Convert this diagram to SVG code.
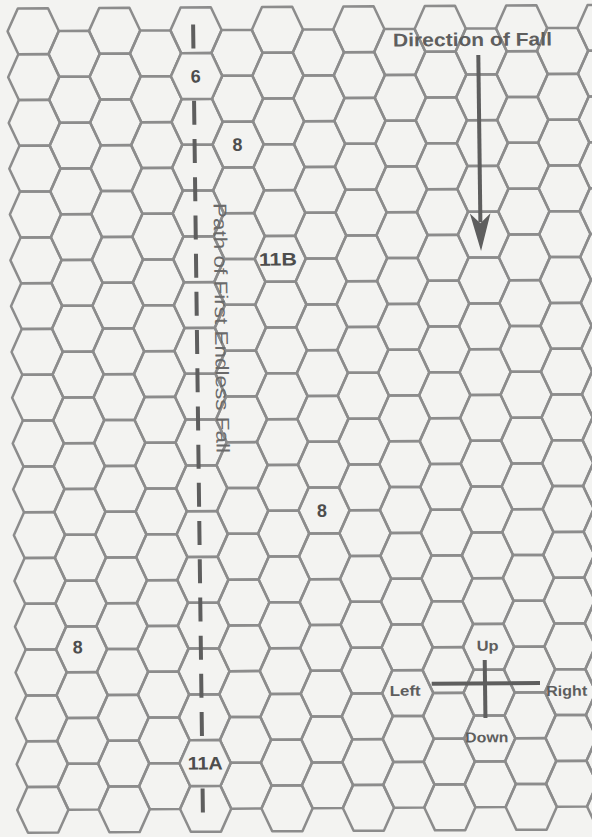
<svg xmlns="http://www.w3.org/2000/svg" width="592" height="837" viewBox="0 0 592 837">
<style>
.hx{fill:none;stroke:#8c8c8c;stroke-width:2.5;stroke-linejoin:round}
.hf{fill:#f3f3f1;stroke:#8c8c8c;stroke-width:2.5;stroke-linejoin:round}
.lb{font-family:"Liberation Sans",Arial,sans-serif;font-weight:bold;font-size:18px;fill:#4d4d4d;text-anchor:middle}
.cp{font-family:"Liberation Sans",Arial,sans-serif;font-weight:bold;font-size:14.5px;fill:#5e5e5e;text-anchor:middle}
.ttl{font-family:"Liberation Sans",Arial,sans-serif;font-weight:bold;font-size:18.5px;fill:#5e5e5e}
.pth{font-family:"Liberation Sans",Arial,sans-serif;font-size:18.5px;fill:#6a6a6a}
.dl{stroke:#5e5e5e;stroke-width:4;fill:none}
</style>
<defs>
<path id="h" d="M-25.6 0L-15.1-22.9H15.1L25.6 0L15.1 22.9H-15.1Z"/>
<g id="ce" class="hx">
<use href="#h" y="31.2"/><use href="#h" y="77"/><use href="#h" y="122.8"/><use href="#h" y="168.6"/><use href="#h" y="214.4"/><use href="#h" y="260.2"/><use href="#h" y="306"/><use href="#h" y="351.8"/><use href="#h" y="397.6"/><use href="#h" y="443.4"/><use href="#h" y="489.2"/><use href="#h" y="535"/><use href="#h" y="580.8"/><use href="#h" y="626.6"/><use href="#h" y="672.4"/><use href="#h" y="718.2"/><use href="#h" y="764"/><use href="#h" y="809.8"/>
</g>
<g id="co" class="hx">
<use href="#h" y="54.1"/><use href="#h" y="99.9"/><use href="#h" y="145.7"/><use href="#h" y="191.5"/><use href="#h" y="237.3"/><use href="#h" y="283.1"/><use href="#h" y="328.9"/><use href="#h" y="374.7"/><use href="#h" y="420.5"/><use href="#h" y="466.3"/><use href="#h" y="512.1"/><use href="#h" y="557.9"/><use href="#h" y="603.7"/><use href="#h" y="649.5"/><use href="#h" y="695.3"/><use href="#h" y="741.1"/><use href="#h" y="786.9"/>
</g>
</defs>
<rect width="592" height="837" fill="#f3f3f1"/>
<g transform="matrix(1,-0.006,0.0124,1,-0.4,0.2)">
<g id="grid">
<use href="#ce" x="33.2"/><use href="#co" x="73.9"/><use href="#ce" x="114.6"/><use href="#co" x="155.3"/><use href="#ce" x="196"/><use href="#co" x="236.7"/><use href="#ce" x="277.4"/><use href="#co" x="318.1"/><use href="#ce" x="358.8"/><use href="#co" x="399.5"/><use href="#ce" x="440.2"/><use href="#co" x="480.9"/><use href="#ce" x="521.6"/><use href="#co" x="562.3"/><use href="#ce" x="603"/>
</g>
<g id="connectors">
<line id="path-first-fall" class="dl" x1="193.2" y1="25.4" x2="193.2" y2="814" stroke-dasharray="24 14.2"/>
<line id="fall-arrow" class="dl" x1="478" y1="57.7" x2="478" y2="225"/>
<polygon points="467.6,216 478,226 488.2,216 478.3,253.7" fill="#5e5e5e"/>
<line id="cross-v" class="dl" x1="476.9" y1="662.7" x2="476.9" y2="720.7" stroke-width="3.2"/>
<line id="cross-h" class="dl" x1="423.6" y1="686" x2="531.9" y2="686" stroke-width="3.2"/>
</g>
<g id="n6"><use href="#h" class="hf" x="196" y="77"/><text class="lb" x="195" y="83.5">6</text></g>
<g id="n8a"><text class="lb" x="236" y="152">8</text></g>
<g id="n11b"><text class="lb" x="275" y="267" textLength="38" lengthAdjust="spacingAndGlyphs">11B</text></g>
<g id="n8b"><text class="lb" x="316" y="518.5">8</text></g>
<g id="n8c"><text class="lb" x="70" y="653.5">8</text></g>
<g id="n11a"><use href="#h" class="hf" x="196" y="764"/><text class="lb" x="196" y="770.5" textLength="35" lengthAdjust="spacingAndGlyphs">11A</text></g>
<g id="direction-label"><text class="ttl" x="392.8" y="48.6" textLength="159" lengthAdjust="spacingAndGlyphs">Direction of Fall</text></g>
<g id="path-label"><text class="pth" transform="translate(211.4,204.1) rotate(90)" textLength="250" lengthAdjust="spacingAndGlyphs">Path of First Endless Fall</text></g>
<g id="compass">
<text class="cp" x="480" y="653.5" textLength="22" lengthAdjust="spacingAndGlyphs">Up</text>
<text class="cp" x="478" y="745" textLength="43" lengthAdjust="spacingAndGlyphs">Down</text>
<text class="cp" x="397" y="698" textLength="31" lengthAdjust="spacingAndGlyphs">Left</text>
<text class="cp" x="558.5" y="699" textLength="41" lengthAdjust="spacingAndGlyphs">Right</text>
</g>
</g>
</svg>
